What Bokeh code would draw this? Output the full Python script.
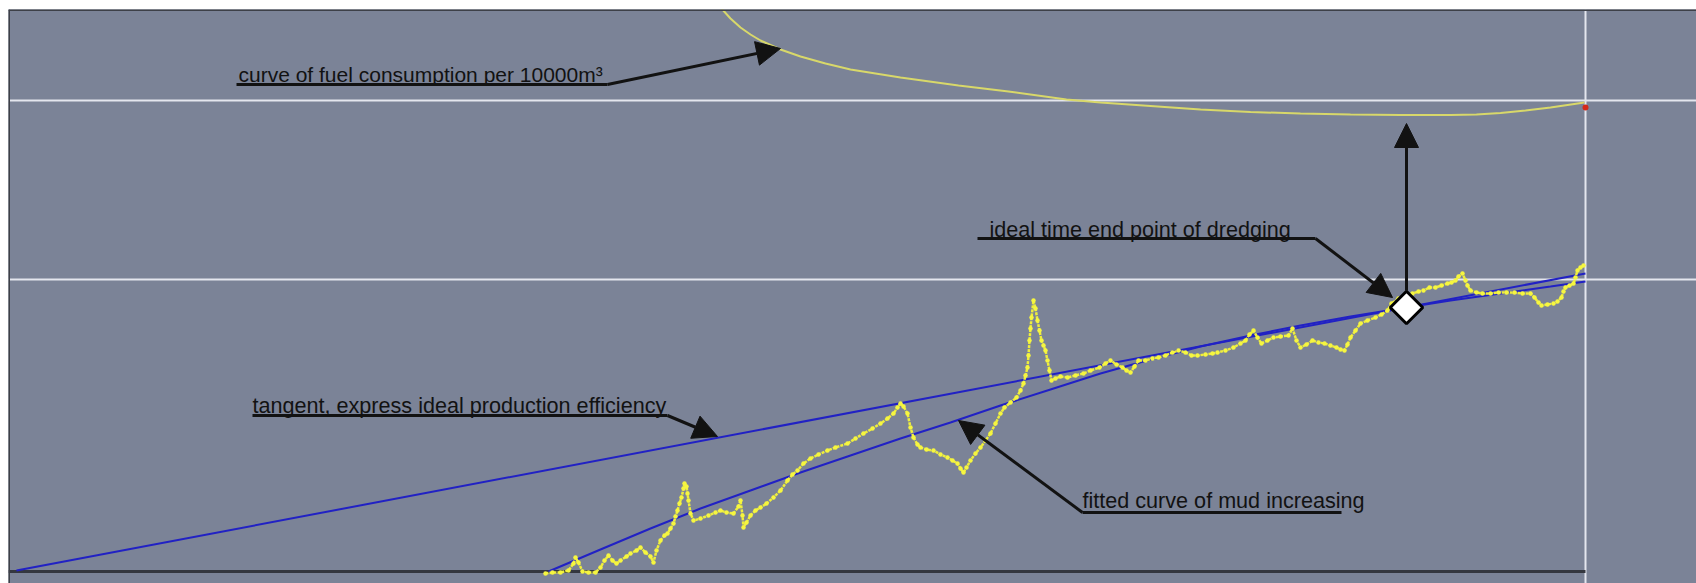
import numpy as np
from bokeh.plotting import figure
from bokeh.models import Range1d, Span, Arrow, NormalHead, ColumnDataSource
from bokeh.core.properties import value
from bokeh.embed import file_html
from bokeh.resources import INLINE

# ---------------- data (time units along x, quantity units along y) ----------------
# fuel consumption per 10000 m3
fuel_t = [708, 713, 722, 732, 742, 752, 772, 792, 817, 842, 892, 950, 1000, 1058,
          1092, 1142, 1192, 1242, 1292, 1342, 1392, 1442, 1468, 1492, 1517, 1542, 1576]
fuel_v = [570, 563, 553, 544, 537, 531, 522, 515, 508, 502, 494, 486, 480, 472,
          469, 465.5, 462, 459.5, 458, 457, 456.5, 456.5, 457, 458.5, 461, 464, 469]
fuel_end_t = [1577]
fuel_end_v = [464]

# measured mud volume
mud_t = [537, 544, 552, 560, 565, 567, 570, 574, 580, 587,
         592, 596, 600, 604, 608, 612, 618, 622, 628, 632,
         637, 642, 645, 648, 652, 656, 659, 662, 665, 667,
         669, 671, 673, 675, 676, 678, 679, 680, 682, 685,
         692, 700, 707, 712, 718, 725, 730, 732, 734, 735,
         738, 742, 747, 752, 758, 765, 772, 779, 784, 789,
         795, 802, 810, 819, 827, 839, 847, 855, 864, 872,
         879, 885, 889, 892, 895, 899, 902, 905, 909, 912,
         918, 925, 932, 939, 944, 949, 952, 955, 958, 962,
         967, 972, 977, 982, 987, 992, 996, 1002, 1008, 1012,
         1015, 1017, 1019, 1020, 1021, 1022, 1023, 1025, 1027, 1029,
         1031, 1033, 1035, 1037, 1039, 1041, 1043, 1047, 1052, 1059,
         1067, 1075, 1082, 1091, 1097, 1102, 1108, 1114, 1118, 1122,
         1126, 1130, 1137, 1144, 1150, 1157, 1164, 1170, 1177, 1183,
         1189, 1197, 1204, 1209, 1217, 1225, 1232, 1237, 1241, 1245,
         1249, 1253, 1259, 1265, 1272, 1280, 1284, 1288, 1292, 1298,
         1304, 1310, 1316, 1322, 1328, 1332, 1336, 1339, 1342, 1347,
         1352, 1359, 1367, 1373, 1379, 1383, 1390, 1397, 1404, 1410,
         1415, 1421, 1427, 1433, 1439, 1443, 1447, 1450, 1454, 1457,
         1459, 1462, 1468, 1474, 1482, 1490, 1498, 1506, 1514, 1522,
         1526, 1530, 1533, 1539, 1545, 1549, 1553, 1555, 1557, 1561,
         1565, 1567, 1569, 1572, 1575]
mud_v = [-2, -1, -1, 1, 8, 14, 9, 0, -1, -1,
         4, 11, 16, 11, 8, 11, 15, 18, 21, 24,
         19, 15, 9, 21, 31, 36, 38, 43, 48, 55,
         61, 68, 74, 83, 88, 85, 78, 71, 58, 51,
         53, 56, 59, 61, 59, 58, 65, 71, 56, 44,
         49, 56, 61, 64, 68, 74, 81, 91, 97, 101,
         108, 113, 117, 121, 124, 128, 133, 138, 143, 148,
         153, 158, 164, 168, 165, 158, 144, 134, 127, 124,
         122, 121, 117, 114, 111, 108, 103, 99, 104, 111,
         118, 124, 131, 138, 148, 158, 164, 169, 174, 181,
         188, 196, 204, 216, 231, 243, 254, 271, 263, 251,
         241, 231, 226, 221, 211, 201, 191, 193, 195, 194,
         196, 198, 201, 204, 208, 211, 207, 204, 201, 199,
         205, 211, 211, 213, 214, 216, 219, 221, 219, 216,
         216, 217, 218, 219, 221, 224, 228, 231, 237, 241,
         234, 228, 231, 234, 235, 236, 243, 231, 224, 227,
         231, 229, 228, 226, 224, 222, 221, 227, 234, 241,
         248, 251, 254, 257, 261, 268, 273, 276, 278, 280,
         281, 284, 284, 286, 288, 289, 291, 295, 298, 291,
         286, 281, 279, 278, 278, 279, 279, 279, 278, 278,
         274, 269, 266, 267, 268, 270, 274, 280, 284, 286,
         288, 294, 301, 304, 306]

# tangent (ideal production efficiency)
tangent_t = [8, 1577]
tangent_v = [1, 298]

# fitted curve of mud increasing
fit_t = [540, 592, 642, 692, 742, 792, 842, 892, 942, 992, 1042,
         1092, 1142, 1192, 1242, 1292, 1342, 1398, 1442, 1492, 1542, 1577]
fit_v = [0, 22, 43, 63, 81, 99, 116, 133, 149, 166, 182,
         198, 212, 225, 236, 246, 255, 264, 271, 278, 285, 290]

# ideal end point of dredging (tangent point)
ideal_t = [1398]
ideal_v = [264]

grid_levels = [471, 292]
end_time = 1577

# annotation texts
labels = ["curve of fuel consumption per 10000m\u00b3",
          "ideal time end point of dredging",
          "tangent, express ideal production efficiency",
          "fitted curve of mud increasing"]
label_sizes = ["21px", "21.6px", "21.6px", "21.6px"]
label_t = [230, 981, 244, 1074]
label_v = [497, 342, 166, 71]
under_t0 = [228, 969, 244, 1074]
under_t1 = [599, 1307, 659, 1333]
under_v = [487, 333, 156, 59]
arrow_t0 = [599, 1307, 659, 1074, 1398]
arrow_v0 = [487, 333, 156, 59, 281]
arrow_t1 = [772, 1384, 709, 950, 1398]
arrow_v1 = [523, 274, 135, 151, 448]

# ---------------- figure ----------------
BG = "#7b8397"
INK = "#121212"
p = figure(width=1696, height=583, x_range=Range1d(0, 1688), y_range=Range1d(-12, 562),
           x_axis_type=None, y_axis_type=None, toolbar_location=None,
           output_backend="svg", min_border_left=8, min_border_top=9,
           min_border_right=0, min_border_bottom=0, background_fill_color=BG,
           border_fill_color="white", outline_line_color=None)

for lv in grid_levels:
    p.add_layout(Span(location=lv, dimension="width", line_color="#e4e6ee",
                      line_width=2, level="underlay"))
p.add_layout(Span(location=end_time, dimension="height", line_color="#e4e6ee",
                  line_width=2, level="underlay"))
# frame borders (left and top)
p.add_layout(Span(location=0, dimension="height", line_color="#3d4048", line_width=3))
p.add_layout(Span(location=562, dimension="width", line_color="#3d4048", line_width=3))

# baseline
p.line([0, end_time], [0, 0], line_color="#34373f", line_width=3)

# data
p.line(tangent_t, tangent_v, line_color="#2121c4", line_width=2)
p.line(fit_t, fit_v, line_color="#2121c4", line_width=2)
p.line(mud_t, mud_v, line_color="#eeee3c", line_width=2.5, line_dash="3 1")
p.scatter(mud_t, mud_v, size=4.5, fill_color="#f6f640", line_color=None)
p.line(fuel_t, fuel_v, line_color="#d8d86a", line_width=2)
p.scatter(fuel_end_t, fuel_end_v, size=6, fill_color="#d42a1a", line_color=None)

# annotations
label_src = ColumnDataSource(dict(x=label_t, y=label_v, text=labels, size=label_sizes))
p.text(x="x", y="y", text="text", source=label_src, text_font=value("Liberation Sans"),
       text_font_size="size", text_color=INK, text_align="left",
       text_baseline="alphabetic")
p.segment(x0=under_t0, y0=under_v, x1=under_t1, y1=under_v, line_color=INK,
          line_width=3)
arrow_src = ColumnDataSource(dict(xs=arrow_t0, ys=arrow_v0, xe=arrow_t1, ye=arrow_v1))
p.add_layout(Arrow(end=NormalHead(size=24, fill_color=INK, line_color=INK, line_width=1),
                   source=arrow_src, x_start="xs", y_start="ys", x_end="xe", y_end="ye",
                   line_color=INK, line_width=3))

d = p.scatter(ideal_t, ideal_v, marker="square", angle=np.pi / 4, size=23,
              fill_color="white", line_color="black", line_width=3)
d.level = "overlay"

open("out.html", "w").write(file_html(p, INLINE))
